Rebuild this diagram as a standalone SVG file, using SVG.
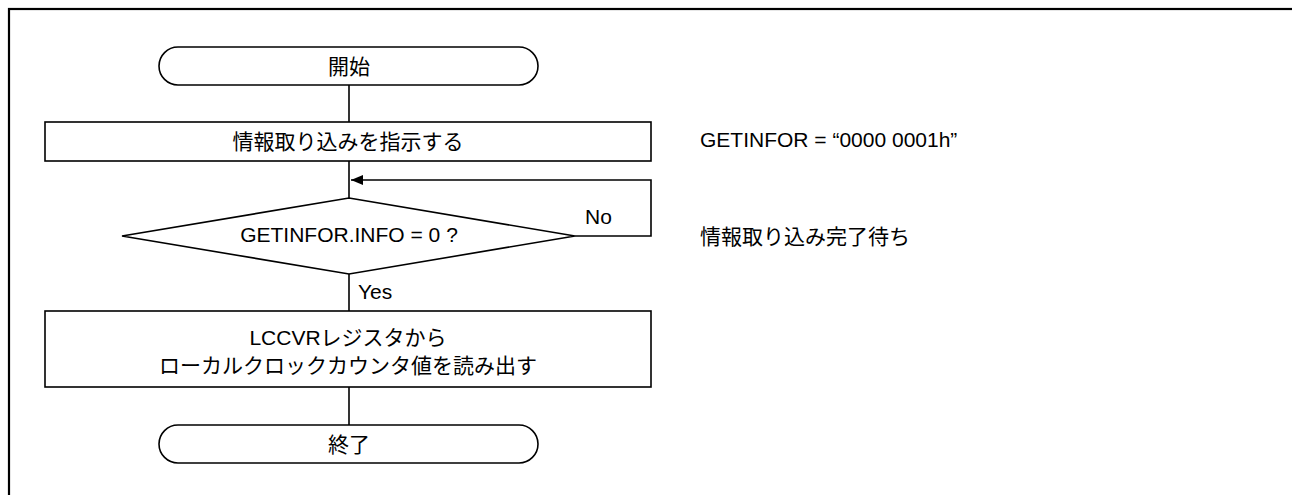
<svg xmlns="http://www.w3.org/2000/svg" width="1292" height="495" viewBox="0 0 1292 495">
<defs>
<style>
.s{fill:#fff;stroke:#000;stroke-width:1.6}
.c{fill:none;stroke:#000;stroke-width:1.6}
text{font-family:"Liberation Sans","Noto Sans CJK JP",sans-serif;font-size:21px;fill:#000}
.m{text-anchor:middle}
</style>
<marker id="ah" markerWidth="12" markerHeight="10" refX="12" refY="5" orient="auto" markerUnits="userSpaceOnUse">
<path d="M0,0 L12,5 L0,10 Z" fill="#000"/>
</marker>
</defs>
<rect x="0" y="0" width="1292" height="495" fill="#fff"/>
<rect x="9" y="9" width="1300" height="500" fill="none" stroke="#000" stroke-width="2.2"/>
<g id="connectors">
<line class="c" x1="349" y1="85" x2="349" y2="122"/>
<line class="c" x1="349" y1="161" x2="349" y2="198"/>
<line class="c" x1="349" y1="274" x2="349" y2="311"/>
<line class="c" x1="349" y1="387" x2="349" y2="425"/>
<path class="c" d="M575,236 H651 V180 H351" marker-end="url(#ah)"/>
<text x="585" y="224">No</text>
<text x="358" y="299">Yes</text>
</g>
<g id="start">
<rect class="s" x="159" y="47" width="379" height="38" rx="19" ry="19"/>
<text class="m" x="349" y="74">開始</text>
</g>
<g id="instruct">
<rect class="s" x="45" y="122" width="606" height="39"/>
<text class="m" x="348" y="149">情報取り込みを指示する</text>
</g>
<g id="decision">
<polygon class="s" points="349,198 575,236 349,274 122,236"/>
<text class="m" x="349" y="242">GETINFOR.INFO = 0 ?</text>
</g>
<g id="read">
<rect class="s" x="45" y="311" width="606" height="76"/>
<text class="m" x="348" y="345">LCCVRレジスタから</text>
<text class="m" x="348" y="373">ローカルクロックカウンタ値を読み出す</text>
</g>
<g id="end">
<rect class="s" x="159" y="425" width="379" height="38" rx="19" ry="19"/>
<text class="m" x="349" y="452">終了</text>
</g>
<g id="notes">
<text x="700" y="147">GETINFOR = “0000 0001h”</text>
<text x="700" y="244">情報取り込み完了待ち</text>
</g>
</svg>
